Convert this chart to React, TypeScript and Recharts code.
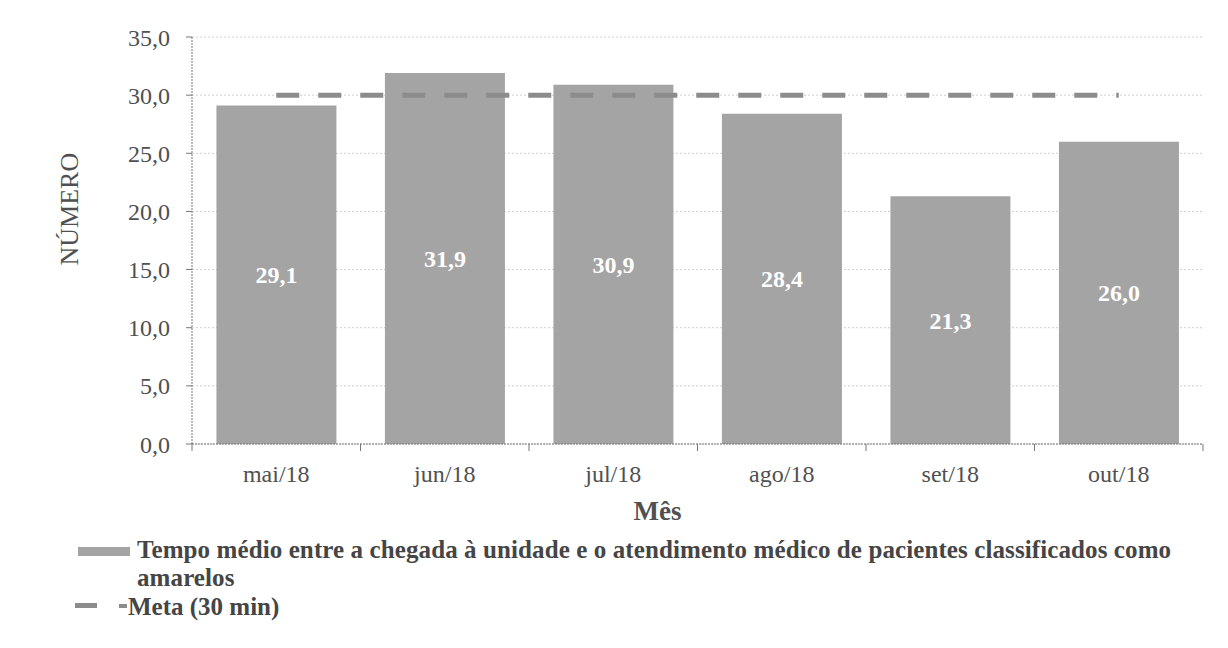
import React from 'react';
import {
  ComposedChart,
  Bar,
  Line,
  XAxis,
  YAxis,
  CartesianGrid,
  Legend,
  LabelList,
} from 'recharts';

const months = ['mai/18', 'jun/18', 'jul/18', 'ago/18', 'set/18', 'out/18'];
const tempoMedio = [29.1, 31.9, 30.9, 28.4, 21.3, 26.0];
const meta = [30, 30, 30, 30, 30, 30];
const yTicks = [0, 5, 10, 15, 20, 25, 30, 35];

const data = months.map((m, i) => ({ mes: m, tempo: tempoMedio[i], meta: meta[i] }));

const FONT = '"Liberation Serif", "Times New Roman", serif';
const TEXT = '#505050';
const BAR = '#a4a4a4';
const LINE = '#8c8c8c';
const HALF_BAND = 84.25;

const fmt = (v: number) => v.toFixed(1).replace('.', ',');

const XTick = (props: any) => {
  const { x, y, payload, index } = props;
  return (
    <g>
      <line x1={x + HALF_BAND} y1={y} x2={x + HALF_BAND} y2={y + 7} stroke="#777" />
      {index === 0 && <line x1={x - HALF_BAND} y1={y} x2={x - HALF_BAND} y2={y + 7} stroke="#777" />}
      <text x={x} y={y + 38} textAnchor="middle" fill={TEXT} fontFamily={FONT} fontSize={24}>
        {payload.value}
      </text>
    </g>
  );
};

const LegendBox = () => (
  <div style={{ position: 'relative', height: 90, fontFamily: FONT, color: '#454545', fontWeight: 'bold', fontSize: 25 }}>
    <div style={{ position: 'absolute', left: 78, top: 10, width: 52, height: 9, background: BAR }} />
    <div style={{ position: 'absolute', left: 137, top: 2, whiteSpace: 'nowrap', lineHeight: '22px', letterSpacing: 0.1 }}>
      Tempo médio entre a chegada à unidade e o atendimento médico de pacientes classificados como
    </div>
    <div style={{ position: 'absolute', left: 137, top: 30, whiteSpace: 'nowrap', lineHeight: '22px', letterSpacing: 0.1 }}>
      amarelos
    </div>
    <div style={{ position: 'absolute', left: 75, top: 66, width: 22, height: 5, background: LINE }} />
    <div style={{ position: 'absolute', left: 119, top: 67, width: 8, height: 4, background: LINE }} />
    <div style={{ position: 'absolute', left: 128, top: 59, whiteSpace: 'nowrap', lineHeight: '22px' }}>
      Meta (30 min)
    </div>
  </div>
);

export default function App() {
  return (
    <div style={{ margin: -8, width: 1228, height: 648, position: 'relative', overflow: 'hidden', background: '#fff' }}>
      <ComposedChart
        width={1228}
        height={648}
        data={data}
        margin={{ top: 37, right: 25, left: 40, bottom: 21 }}
        barCategoryGap="14.5%"
      >
        {/* scanned page frame */}
        <path d="M6.5 660 V7.5 H1226.5 V660" fill="none" stroke="#9a9a9a" strokeDasharray="2 1" />
        <CartesianGrid vertical={false} stroke="#cfcfcf" strokeDasharray="2 2" />
        <XAxis
          dataKey="mes"
          height={93}
          tickSize={0}
          tickMargin={0}
          tickLine={false}
          tick={<XTick />}
          axisLine={{ stroke: '#777', strokeDasharray: '2 1' }}
          label={{ value: 'Mês', position: 'insideBottom', offset: 17, dx: -40, fill: TEXT, fontFamily: FONT, fontSize: 27, fontWeight: 'bold' }}
        />
        <YAxis
          width={152}
          domain={[0, 35]}
          ticks={yTicks}
          tickFormatter={fmt}
          tickSize={6}
          tickMargin={16}
          tick={{ fill: TEXT, fontFamily: FONT, fontSize: 24 }}
          tickLine={{ stroke: '#777' }}
          axisLine={{ stroke: '#777', strokeDasharray: '2 1' }}
          label={{ value: 'NÚMERO', angle: -90, position: 'insideLeft', offset: 29, dy: 25, fill: TEXT, fontFamily: FONT, fontSize: 26 }}
        />
        <Legend verticalAlign="bottom" content={<LegendBox />} wrapperStyle={{ left: 0, width: 1228 }} />
        <Bar dataKey="tempo" fill={BAR} isAnimationActive={false} name="Tempo médio">
          <LabelList dataKey="tempo" position="center" formatter={(v: any) => fmt(Number(v))} fill="#fff" fontFamily={FONT} fontSize={24} fontWeight="bold" />
        </Bar>
        <Line
          dataKey="meta"
          stroke={LINE}
          strokeWidth={5}
          strokeDasharray="23 19"
          dot={false}
          activeDot={false}
          isAnimationActive={false}
          name="Meta (30 min)"
        />
      </ComposedChart>
    </div>
  );
}
